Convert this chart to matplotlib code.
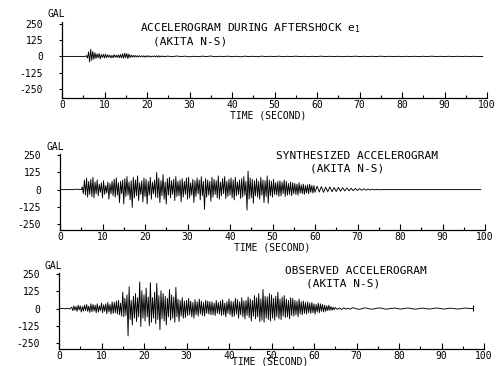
import numpy as np
import matplotlib
matplotlib.use('Agg')
import matplotlib.pyplot as plt
from matplotlib.ticker import FixedLocator, FixedFormatter, MultipleLocator

# ---- data (time in s, acceleration in gal) ----
# each trace is a list of (start time, step, values) segments

aftershock_segments = [
    (0.0, 5.5, [0, 0]),
    (5.75, 0.25, [
        6,
        -12, 35, -42, 55,
        -30, 38, -22, 28,
        -15, 20, -10, 22,
        -18, 14, -8, 16,
        -12, 18, -10, 12,
        -6, 10, -12, 8,
        -10, 14, -6, 9,
        -8, 12, -10, 15,
        -12, 20, -14, 25,
        -10, 22, -16, 18,
        -8, 10, -5, 8,
        -6, 7, -4, 6,
        -5, 6, -3, 5,
        -4, 5, -6, 4,
        -3, 6, -4, 3,
        -4, 3, -2, 4,
        -3, 4, -5, 6,
        -4, 3, -2, 3,
        -3, 2, -2, 3,
    ]),
    (25.0, 1.0, [
        2, -2, 3, -1, 2, -3, 1, -2, 2, -1, 3, -2, 1, -1, 2, -2, 1, -3, 2, -1,
        1, -2, 2, -1, 1, -1, 2, -2, 1, -1, 2, -1, 1, -2, 1, -1, 2, -1, 1, -1,
        1, -2, 1, -1, 2, -1, 1, -1, 1, -1, 2, -1, 1, -1, 1, -2, 1, -1, 1, -1,
        1, -1, 2, -1, 1, -1, 1, -1, 1, -1, 1, -1, 1, -1, 0,
    ]),
]

synthesized_segments = [
    (0.0, 1.0, [0, 0, 0, 0, 3, 0]),
    (5.25, 0.25, [
        20, -30, 70,
        -40, 85, -55, 60,
        -35, 75, -50, 90,
        -60, 55, -30, 70,
        -45, 40, -20, 50,
        -60, 65, -35, 30,
        -25, 55, -70, 45,
        -30, 60, -45, 75,
        -55, 85, -40, 50,
        -95, 60, -30, 70,
        -105, 80, -50, 95,
        -40, 55, -75, 65,
        -130, 90, -60, 70,
        -45, 100, -80, 50,
        -35, 65, -90, 85,
        -50, 75, -105, 60,
        -40, 90, -70, 55,
        -30, 70, -55, 125,
        -60, 85, -95, 65,
        -45, 110, -70, 55,
        -105, 80, -40, 90,
        -60, 65, -35, 75,
        -80, 95, -50, 60,
        -45, 70, -90, 80,
        -55, 60, -35, 85,
        -70, 90, -60, 50,
        -40, 75, -95, 65,
        -50, 85, -30, 70,
        -75, 95, -45, 60,
        -145, 80, -55, 70,
        -40, 60, -85, 90,
        -55, 75, -35, 65,
        -60, 100, -70, 55,
        -45, 80, -30, 95,
        -65, 60, -50, 75,
        -40, 85, -60, 70,
        -75, 90, -45, 55,
        -35, 70, -65, 80,
        -55, 95, -40, 60,
        -150, 135, -70, 85,
        -60, 75, -100, 65,
        -45, 80, -55, 60,
        -70, 90, -40, 70,
        -95, 65, -50, 100,
        -100, 70, -45, 60,
        -55, 75, -35, 50,
        -40, 60, -50, 65,
        -45, 55, -30, 70,
        -50, 60, -40, 45,
        -35, 55, -45, 50,
        -30, 45, -35, 40,
        -40, 50, -25, 35,
        -30, 40, -35, 30,
        -25, 35, -30, 40,
        -20, 30, -25, 30,
    ]),
    (60.0, 0.5, [
        -20, 25, -18, 22, -20, 18, -15, 20, -16, 15, -14, 16, -12, 14, -10, 12,
        -9, 10, -8, 9, -6, 7, -5, 6, -4, 4, -3, 3, -2, 2, -1,
    ]),
    (76.0, 23.0, [0, 0]),
]

observed_segments = [
    (0.0, 0.5, [0, 0, 2, -2, 3, -3]),
    (3.0, 0.25, [
        10, -15, 20, -12,
        15, -20, 25, -10,
        20, -25, 15, -18,
        25, -15, 30, -20,
        18, -28, 35, -22,
        30, -18, 25, -30,
        35, -25, 20, -15,
        40, -30, 28, -20,
        35, -38, 45, -25,
        30, -40, 50, -35,
        45, -30, 55, -40,
        60, -45, 40, -55,
        120, -60, 75, -50,
        100, -200, 160, -80,
        60, -120, 90, -70,
        110, -95, 80, -60,
        195, -130, 130, -70,
        100, -90, 150, -60,
        85, -125, 190, -100,
        80, -70, 120, -110,
        185, -80, 95, -155,
        130, -75, 110, -90,
        90, -120, 75, -60,
        140, -85, 100, -70,
        85, -100, 155, -60,
        70, -95, 60, -55,
        80, -70, 55, -65,
        60, -50, 75, -45,
        55, -60, 45, -70,
        65, -45, 50, -55,
        70, -40, 55, -50,
        45, -55, 60, -35,
        55, -40, 50, -45,
        50, -45, 40, -50,
        60, -35, 45, -40,
        55, -50, 65, -45,
        40, -60, 50, -35,
        70, -45, 55, -60,
        50, -55, 75, -40,
        65, -70, 50, -45,
        80, -60, 55, -75,
        60, -50, 85, -65,
        70, -90, 60, -55,
        95, -75, 80, -60,
        110, -95, 70, -85,
        140, -100, 90, -70,
        85, -80, 110, -90,
        100, -70, 75, -85,
        90, -60, 120, -75,
        70, -80, 85, -55,
        95, -65, 70, -60,
        60, -75, 80, -50,
        75, -55, 60, -45,
        55, -60, 70, -40,
        50, -45, 55, -35,
        45, -40, 50, -30,
        40, -35, 45, -30,
        35, -40, 30, -25,
        40, -30, 35, -20,
        30, -25, 25, -20,
        20, -15, 25, -12,
        15, -12, 10, -8,
    ]),
    (65.0, 0.5, [
        8, -6, 5, -7, 6, -4, 3, -5, 6, 4, -2, -5, -3, 2, 5, 3, -2, -4, -3, 1,
        4, 5, 2, -2, -4, -2, 1, 3, 4, 1, -2, -3, -1, 2, 4, 3, 0, -3, -4, -1,
        2, 3, 2, -1, -3, -2, 1, 3, 4, 2, -1, -3, -2, 1, 3, 2, 0, -2, -3, -1,
        2, 4, 3, 1, 0, 2,
    ]),
]

ytick_values = [250, 125, 0, -125, -250]
ytick_labels = ['250', '125', '0', '-125', '-250']
xtick_values = [0, 10, 20, 30, 40, 50, 60, 70, 80, 90, 100]
xtick_labels = ['0', '10', '20', '30', '40', '50', '60', '70', '80', '90', '100']


def build_trace(segments):
    times, values = [], []
    for start, step, vals in segments:
        times.append(start + step * np.arange(len(vals)))
        values.append(np.asarray(vals, dtype=float))
    return np.concatenate(times), np.concatenate(values)


W, H = 503, 366
plt.rcParams['font.family'] = 'DejaVu Sans Mono'

fig = plt.figure(figsize=(W / 100, H / 100), dpi=100)

# panel layout in pixels: left, right, top, bottom
panels = [
    dict(seg=aftershock_segments, box=(62, 487, 22, 98), ylim=(-320, 265),
         title=('ACCELEROGRAM DURING AFTERSHOCK $\\mathregular{e_1}$', 250, 28),
         sub=('(AKITA N-S)', 190, 41), gal=(56, 14), xlab=(268, 116)),
    dict(seg=synthesized_segments, box=(60, 485, 154, 230), ylim=(-295, 260),
         title=('SYNTHESIZED ACCELEROGRAM', 357, 156),
         sub=('(AKITA N-S)', 347, 169), gal=(55, 147), xlab=(272, 248)),
    dict(seg=observed_segments, box=(59, 484, 273, 349), ylim=(-295, 260),
         title=('OBSERVED ACCELEROGRAM', 356, 271),
         sub=('(AKITA N-S)', 343, 284), gal=(53, 266), xlab=(270, 361)),
]

for i, p in enumerate(panels):
    left, right, top, bottom = p['box']
    ax = fig.add_axes([left / W, 1 - bottom / H, (right - left) / W, (bottom - top) / H])
    t, v = build_trace(p['seg'])
    ax.plot(t, v, color='black', linewidth=0.65)
    if i == 2:
        ax.plot(t[-1:], v[-1:], marker='|', markersize=5, color='black', mew=0.8)

    ax.set_xlim(0, 100)
    ax.set_ylim(*p['ylim'])
    for s in ('top', 'right'):
        ax.spines[s].set_visible(False)
    ax.spines['left'].set_linewidth(0.9)
    ax.spines['bottom'].set_linewidth(0.9)

    ax.yaxis.set_major_locator(FixedLocator(ytick_values))
    ax.yaxis.set_major_formatter(FixedFormatter(ytick_labels))
    ax.xaxis.set_major_locator(FixedLocator(xtick_values))
    ax.xaxis.set_major_formatter(FixedFormatter(xtick_labels))
    ax.xaxis.set_minor_locator(MultipleLocator(5))
    ax.tick_params(axis='y', direction='out', length=2.5, width=0.8,
                   pad=11, labelsize=7)
    ax.tick_params(axis='x', which='major', direction='in', length=4,
                   width=0.8, pad=1.5, labelsize=7)
    ax.tick_params(axis='x', which='minor', direction='in', length=2, width=0.8)

    ax.set_xlabel('TIME (SECOND)', fontsize=7, va='center')
    ax.xaxis.set_label_coords((p['xlab'][0] - left) / (right - left),
                              -(p['xlab'][1] - bottom) / (bottom - top))

    txt, x, y = p['title']
    fig.text(x / W, 1 - y / H, txt, ha='center', va='center', fontsize=8)
    txt, x, y = p['sub']
    fig.text(x / W, 1 - y / H, txt, ha='center', va='center', fontsize=8)
    fig.text(p['gal'][0] / W, 1 - p['gal'][1] / H, 'GAL', ha='center',
             va='center', fontsize=7)

fig.savefig('out.png', dpi=100, facecolor='white')
